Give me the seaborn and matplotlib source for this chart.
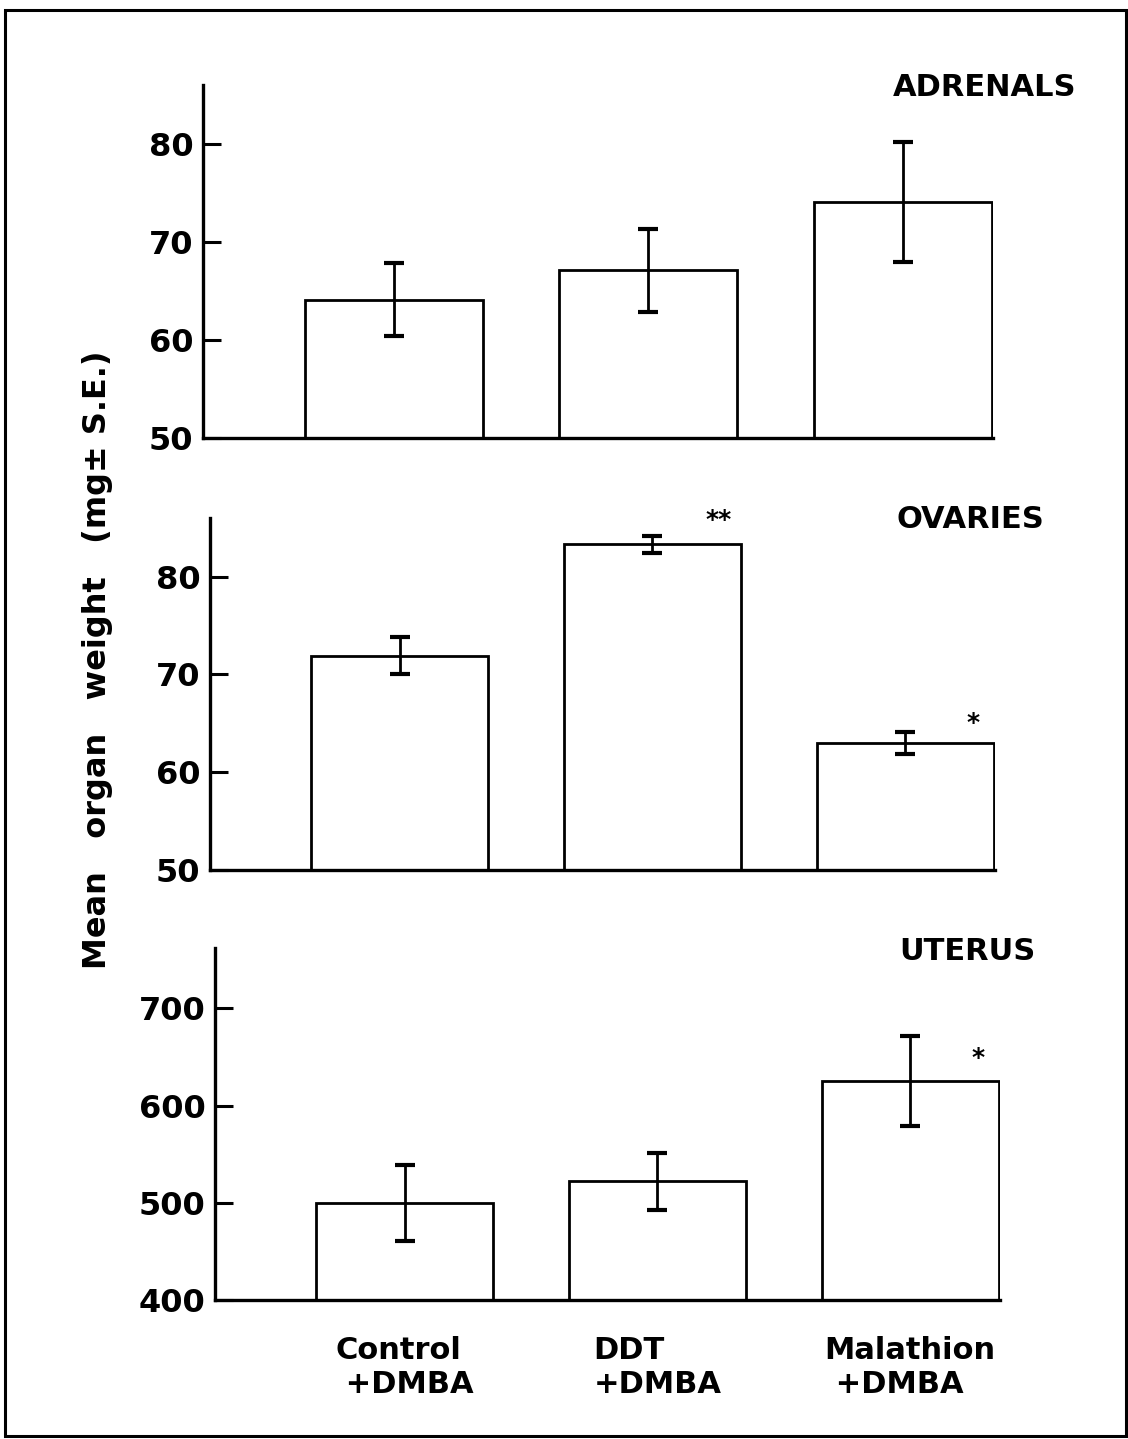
import numpy as np
import pandas as pd
import matplotlib
matplotlib.use("Agg")
import matplotlib.pyplot as plt
from matplotlib.patches import Rectangle
import seaborn as sns

sns.set_style("white")
plt.rcParams['font.family'] = ['DejaVu Sans']
plt.rcParams['text.color'] = 'black'
plt.rcParams['ytick.color'] = 'black'
plt.rcParams['xtick.color'] = 'black'

groups = ["Control\n +DMBA", "DDT\n+DMBA", "Malathion\n +DMBA"]

adrenals_mean = [64.1, 67.1, 74.1]
adrenals_se = [3.7, 4.2, 6.1]

ovaries_mean = [71.9, 83.3, 63.0]
ovaries_se = [1.9, 0.9, 1.1]

uterus_mean = [500, 522, 625]
uterus_se = [39, 29, 46]

panels = [
    ("ADRENALS", adrenals_mean, adrenals_se, [50, 60, 70, 80], (50, 86)),
    ("OVARIES", ovaries_mean, ovaries_se, [50, 60, 70, 80], (50, 86)),
    ("UTERUS", uterus_mean, uterus_se, [400, 500, 600, 700], (400, 762)),
]
stars = {1: [(1.26, 85.8, "**"), (2.27, 65.0, "*")], 2: [(2.27, 649, "*")]}

W, H = 1128, 1439
fig = plt.figure(figsize=(W / 100, H / 100), dpi=100)

# axes boxes in pixels: left, right, top, bottom
boxes = [(203, 993, 85, 438), (210, 995, 518, 870), (215, 1000, 948, 1300)]
title_pos = [(893, 87), (896, 520), (899, 952)]

for i, (name, mean, se, ticks, ylim) in enumerate(panels):
    l, r, t, b = boxes[i]
    ax = fig.add_axes([l / W, 1 - b / H, (r - l) / W, (b - t) / H])
    df = pd.DataFrame({"group": groups, "value": mean})
    sns.barplot(data=df, x="group", y="value", color="white", edgecolor="black",
                linewidth=2.0, width=0.7, errorbar=None, ax=ax)
    for p in ax.patches:
        p.set_facecolor("white")
    ax.errorbar(range(3), mean, yerr=se, fmt="none", ecolor="black",
                elinewidth=2.0, capsize=7, capthick=3)
    ax.set_xlim(-0.75, 2.355)
    ax.set_ylim(*ylim)
    ax.set_yticks(ticks)
    ax.tick_params(axis="y", left=True, direction="in", length=13, width=2.2,
                   labelsize=23, pad=7, labelcolor="black")
    for tl in ax.get_yticklabels():
        tl.set_fontweight("bold")
    ax.set_ylabel("")
    ax.set_xlabel("")
    for s in ["top", "right"]:
        ax.spines[s].set_visible(False)
    for s in ["left", "bottom"]:
        ax.spines[s].set_linewidth(2.4)
        ax.spines[s].set_color("black")
    if i < 2:
        ax.set_xticks([])
    else:
        ax.set_xticks([0, 1, 2], groups)
        ax.tick_params(axis="x", length=0, labelsize=22, pad=26, labelcolor="black")
        for tl in ax.get_xticklabels():
            tl.set_multialignment("left")
            tl.set_fontweight("bold")
    for x, y, s in stars.get(i, []):
        ax.text(x, y, s, ha="center", va="center", fontsize=18, fontweight="bold")
    fig.text(title_pos[i][0] / W, 1 - title_pos[i][1] / H, name, ha="left", va="center",
             fontsize=22, fontweight="bold")

fig.text(98 / W, 1 - 660 / H, "Mean   organ   weight   (mg\u00b1 S.E.)", rotation=90,
         ha="center", va="center", fontsize=23, fontweight="bold")

fig.patches.append(Rectangle((5 / W, 1 - 1436 / H), (1126 - 5) / W, (1436 - 10) / H,
                             transform=fig.transFigure, fill=False, edgecolor="black",
                             linewidth=2.2))

fig.savefig("out.png", dpi=100)
